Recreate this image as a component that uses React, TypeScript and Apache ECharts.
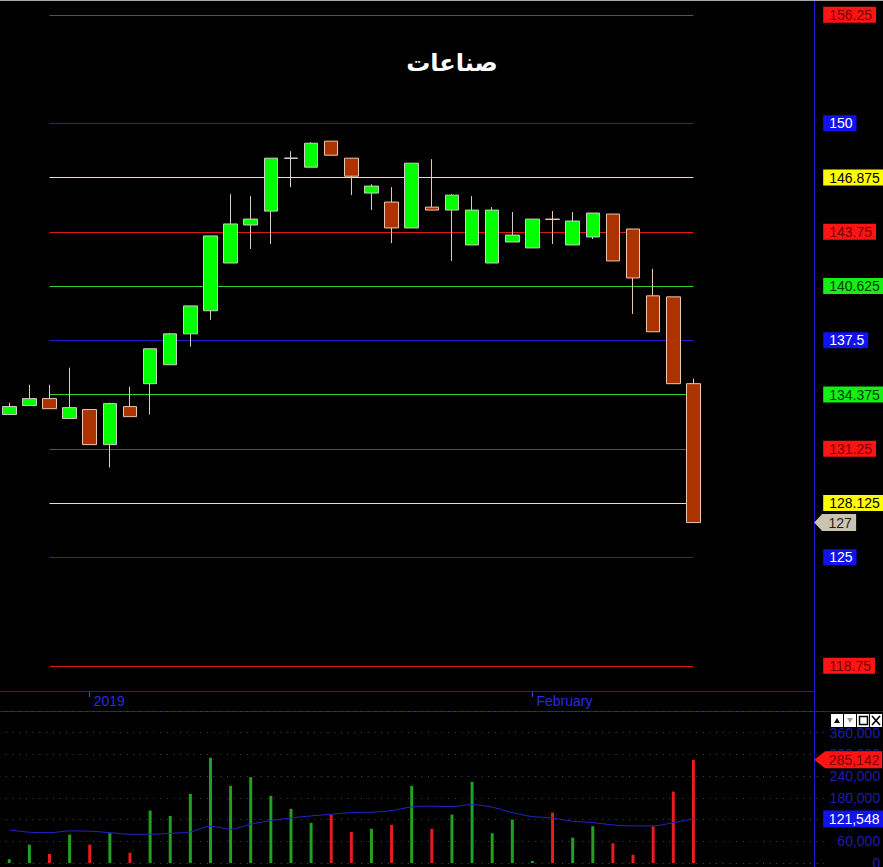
import React, { useEffect, useRef } from 'react';
import * as echarts from 'echarts';

// ---------------- data ----------------
const chartTitle = 'صناعات';

const dates = [
  '2018-12-26', '2018-12-27', '2018-12-30', '2018-12-31',
  '2019-01-02', '2019-01-03', '2019-01-06', '2019-01-07', '2019-01-08', '2019-01-09', '2019-01-10',
  '2019-01-13', '2019-01-14', '2019-01-15', '2019-01-16', '2019-01-17',
  '2019-01-20', '2019-01-21', '2019-01-22', '2019-01-23', '2019-01-24',
  '2019-01-27', '2019-01-28', '2019-01-29', '2019-01-30', '2019-01-31',
  '2019-02-03', '2019-02-04', '2019-02-05', '2019-02-06', '2019-02-07',
  '2019-02-10', '2019-02-11', '2019-02-12', '2019-02-13',
];
// empty slots to the right of the last candle
const padCategories = ['pad1', 'pad2', 'pad3', 'pad4', 'pad5', 'pad6'];

const opens = [
  133.22, 133.74, 134.14, 132.99, 133.51, 131.49, 133.68, 135.0, 136.09, 137.87,
  139.2, 141.95, 144.14, 144.94, 147.97, 147.47, 148.97, 147.99, 145.98, 145.46,
  143.97, 145.17, 145.0, 142.99, 141.95, 143.16, 142.82, 144.48, 142.99, 143.45,
  144.77, 143.91, 140.06, 140.0, 135.0,
];
const closes = [
  133.68, 134.14, 133.56, 133.62, 131.49, 133.85, 133.1, 137.01, 137.87, 139.48,
  143.51, 144.2, 144.48, 147.99, 148.0, 148.85, 148.16, 146.95, 146.38, 143.97,
  147.7, 145.0, 145.86, 145.0, 145.0, 143.56, 144.48, 144.46, 144.37, 144.83,
  142.07, 141.09, 137.99, 135.0, 127.0,
];
const lows = [
  133.22, 133.74, 133.56, 132.99, 131.49, 130.17, 133.1, 133.22, 136.09, 137.13,
  138.68, 141.95, 142.76, 143.05, 146.32, 147.47, 148.16, 145.86, 145.0, 143.1,
  143.97, 145.0, 142.07, 142.99, 141.95, 143.16, 142.82, 143.05, 142.99, 143.33,
  142.07, 139.02, 137.99, 135.0, 127.0,
];
const highs = [
  133.91, 134.94, 134.94, 135.92, 133.51, 133.91, 134.83, 137.01, 137.93, 139.48,
  143.51, 145.92, 145.8, 147.99, 148.39, 148.91, 148.97, 147.99, 146.49, 146.32,
  147.7, 147.93, 145.92, 145.8, 145.17, 144.89, 144.48, 144.94, 144.89, 144.83,
  144.77, 143.91, 141.61, 140.0, 135.29,
];
const volumes = [
  10200, 50700, 24900, 78400, 50700, 82200, 28600, 144900, 130100, 191100,
  290800, 213200, 237200, 185500, 149500, 110800, 132900, 85800, 94200, 105200,
  213200, 94200, 133800, 224300, 82200, 120000, 5500, 139300, 70100, 101600,
  54500, 23000, 101600, 197400, 285142,
];
const volumeMA = [
  91400, 85000, 83900, 88600, 87800, 83900, 79500, 79500, 82200, 85800,
  101600, 93300, 107200, 117100, 124600, 130100, 134800, 139300, 140400, 144800,
  155100, 157000, 155900, 161400, 154200, 139300, 128200, 124600, 115500, 111600,
  105200, 102500, 102500, 111600, 121548,
];

// x-axis period marks: [category, text]
const periodMarks = [
  ['2019-01-02', '2019'],
  ['2019-02-03', 'February'],
];

// horizontal price levels and their colour kind
const levelValues = [156.25, 150, 146.875, 143.75, 140.625, 137.5, 134.375, 131.25, 128.125, 125, 118.75];
const levelKinds = ['red', 'blue', 'yellow', 'red', 'green', 'blue', 'green', 'red', 'yellow', 'blue', 'red'];

const volumeTicks = [0, 60000, 120000, 180000, 240000, 300000, 360000];

// ---------------- styles ----------------
const FONT = '"Liberation Sans", Arial, sans-serif';
const KIND: Record<string, { line: string; bg: string; fg: string }> = {
  red: { line: '#dc1818', bg: '#ff1414', fg: '#780000' },
  blue: { line: '#2020d0', bg: '#1212ee', fg: '#ffffff' },
  yellow: { line: '#eeee60', bg: '#ffff00', fg: '#000000' },
  green: { line: '#30d030', bg: '#14f014', fg: '#003a00' },
};
const UP = '#00ff00';
const DOWN = '#aa3300';
const VOL_UP = '#22a022';
const VOL_DOWN = '#e81c1c';
const FRAME = '#1a1ad4';

export default function App() {
  const ref = useRef<HTMLDivElement>(null);

  useEffect(() => {
    if (!ref.current) return;
    const chart = echarts.init(ref.current, undefined, { renderer: 'svg' });

    const categories = [...dates, ...padCategories];
    const lastCat = categories[categories.length - 1];
    const markMap = new Map(periodMarks.map((m) => [m[0], m[1]]));
    const candleData = dates.map((_, i) => [opens[i], closes[i], lows[i], highs[i]]);
    const volData = volumes.map((v, i) => ({
      value: v,
      itemStyle: { color: closes[i] >= opens[i] ? VOL_UP : VOL_DOWN },
    }));
    const lastClose = closes[closes.length - 1];
    const lastVol = volumes[volumes.length - 1];
    const lastMA = volumeMA[volumeMA.length - 1];
    const fmtNum = (v: number) => v.toLocaleString('en-US');

    const rich: Record<string, any> = {};
    Object.keys(KIND).forEach((k) => {
      rich[k] = {
        backgroundColor: KIND[k].bg,
        color: KIND[k].fg,
        padding: [1, 4, 1, 6],
        fontSize: 14,
        lineHeight: 15,
        fontFamily: FONT,
      };
    });

    const levelLines = levelValues.map((v, i) => [
      { coord: [dates[2], v], lineStyle: { color: KIND[levelKinds[i]].line, width: 1, type: 'solid' } },
      { coord: [dates[dates.length - 1], v] },
    ]);

    const option: any = {
      animation: false,
      backgroundColor: '#000000',
      grid: [
        { left: -0.8, top: 0, width: 825, height: 692, containLabel: false, outerBoundsMode: 'none' },
        { left: -0.8, top: 711, width: 825, height: 152, containLabel: false, outerBoundsMode: 'none' },
      ],
      xAxis: [
        {
          gridIndex: 0,
          type: 'category',
          data: categories,
          boundaryGap: true,
          axisLine: { show: false },
          axisTick: {
            show: true,
            alignWithLabel: true,
            interval: (_i: number, v: string) => markMap.has(v),
            length: 5,
            lineStyle: { color: '#4848e8', width: 1 },
          },
          axisLabel: {
            show: true,
            interval: (_i: number, v: string) => markMap.has(v),
            formatter: (v: string) => markMap.get(v) || '',
            align: 'left',
            margin: 2,
            padding: [0, 0, 0, 4],
            color: '#2a2ae4',
            fontSize: 14,
            fontFamily: FONT,
          },
          splitLine: { show: false },
        },
        {
          gridIndex: 1,
          type: 'category',
          data: categories,
          boundaryGap: true,
          show: false,
        },
      ],
      yAxis: [
        {
          gridIndex: 0,
          type: 'value',
          position: 'right',
          offset: -10,
          min: 117.24,
          max: 157.1,
          axisLine: { show: false },
          axisTick: { show: false },
          splitLine: { show: false },
          axisLabel: {
            customValues: levelValues,
            margin: 9,
            align: 'left',
            formatter: (v: number) => {
              const idx = levelValues.findIndex((x) => Math.abs(x - v) < 1e-6);
              if (idx < 0) return '';
              return `{${levelKinds[idx]}|${levelValues[idx]}}`;
            },
            rich,
          },
        },
        {
          gridIndex: 1,
          type: 'value',
          position: 'right',
          offset: -10,
          min: 0,
          max: 420000,
          interval: 60000,
          axisLine: { show: false },
          axisTick: { show: false },
          splitLine: { show: true, lineStyle: { color: '#4a4a4a', width: 1, type: [1, 5.7] } },
          axisLabel: {
            customValues: volumeTicks,
            margin: 66,
            align: 'right',
            color: '#1e1ea8',
            fontSize: 14,
            fontFamily: FONT,
            formatter: (v: number) => fmtNum(v),
          },
        },
      ],
      series: [
        {
          type: 'candlestick',
          xAxisIndex: 0,
          yAxisIndex: 0,
          data: candleData,
          barWidth: 14,
          itemStyle: {
            color: UP,
            color0: DOWN,
            borderColor: '#cfcfc2',
            borderColor0: '#ecc8b0',
            borderWidth: 1,
          },
          markLine: {
            silent: true,
            z: 1,
            symbol: ['none', 'none'],
            label: { show: false },
            data: levelLines,
          },
          markPoint: {
            silent: true,
            symbol: 'path://M0,8.5L8,0L42,0L42,17L8,17Z',
            symbolSize: [42, 17],
            symbolOffset: [21, 0],
            itemStyle: { color: '#cbc3b2' },
            label: {
              show: true,
              color: '#1e1e1e',
              fontSize: 14,
              fontFamily: FONT,
              offset: [5, 0],
              formatter: String(lastClose),
            },
            data: [{ coord: [lastCat, lastClose] }],
          },
        },
        {
          type: 'bar',
          xAxisIndex: 1,
          yAxisIndex: 1,
          data: volData,
          barWidth: 3,
          markPoint: {
            silent: true,
            symbol: 'path://M0,8.5L11,0L68,0L68,17L11,17Z',
            symbolSize: [68, 17],
            symbolOffset: [34, 0],
            itemStyle: { color: '#ff1414' },
            label: {
              show: true,
              color: '#780000',
              fontSize: 14,
              fontFamily: FONT,
              offset: [6, 0],
              formatter: fmtNum(lastVol),
            },
            data: [{ coord: [lastCat, lastVol] }],
          },
        },
        {
          type: 'line',
          xAxisIndex: 1,
          yAxisIndex: 1,
          data: volumeMA,
          showSymbol: false,
          symbol: 'none',
          smooth: 0.3,
          lineStyle: { color: '#2424cc', width: 1 },
          markPoint: {
            silent: true,
            symbol: 'rect',
            symbolSize: [60, 17],
            symbolOffset: [39, 0],
            itemStyle: { color: '#1212ee' },
            label: {
              show: true,
              color: '#ffffff',
              fontSize: 14,
              fontFamily: FONT,
              offset: [1, 0],
              formatter: fmtNum(lastMA),
            },
            data: [{ coord: [lastCat, lastMA] }],
          },
        },
      ],
      graphic: [
        {
          type: 'text',
          x: 452,
          y: 63,
          style: {
            text: chartTitle,
            fill: '#ffffff',
            fontSize: 24,
            fontWeight: 'bold',
            fontFamily: '"DejaVu Sans", sans-serif',
            align: 'center',
            verticalAlign: 'middle',
          },
        },
        { type: 'line', shape: { x1: 0, y1: 0.5, x2: 883, y2: 0.5 }, style: { stroke: '#a8a8a8', lineWidth: 1 } },
        { type: 'line', shape: { x1: 0, y1: 691.5, x2: 814, y2: 691.5 }, style: { stroke: FRAME, lineWidth: 1 } },
        { type: 'line', shape: { x1: 0, y1: 711.5, x2: 883, y2: 711.5 }, style: { stroke: FRAME, lineWidth: 1 } },
        { type: 'line', shape: { x1: 814.5, y1: 1, x2: 814.5, y2: 867 }, style: { stroke: FRAME, lineWidth: 1 } },
        // pane buttons
        { type: 'rect', shape: { x: 831, y: 714, width: 12, height: 13 }, style: { fill: '#ffffff' } },
        { type: 'polygon', shape: { points: [[834, 723], [840, 723], [837, 718]] }, style: { fill: '#000000' } },
        { type: 'rect', shape: { x: 844, y: 714, width: 12, height: 13 }, style: { fill: '#ffffff' } },
        { type: 'polygon', shape: { points: [[847, 718], [853, 718], [850, 723]] }, style: { fill: '#a0a0a0' } },
        { type: 'rect', shape: { x: 857, y: 714, width: 12, height: 13 }, style: { fill: '#ffffff' } },
        { type: 'rect', shape: { x: 859.5, y: 716.5, width: 8, height: 8 }, style: { fill: 'none', stroke: '#000000', lineWidth: 1.5 } },
        { type: 'rect', shape: { x: 870, y: 714, width: 12, height: 13 }, style: { fill: '#ffffff' } },
        { type: 'line', shape: { x1: 872, y1: 716, x2: 880, y2: 725 }, style: { stroke: '#000000', lineWidth: 1.6 } },
        { type: 'line', shape: { x1: 880, y1: 716, x2: 872, y2: 725 }, style: { stroke: '#000000', lineWidth: 1.6 } },
      ],
    };

    chart.setOption(option);
    return () => chart.dispose();
  }, []);

  return (
    <div
      ref={ref}
      style={{ position: 'fixed', left: 0, top: 0, width: 883, height: 867, background: '#000' }}
    />
  );
}
